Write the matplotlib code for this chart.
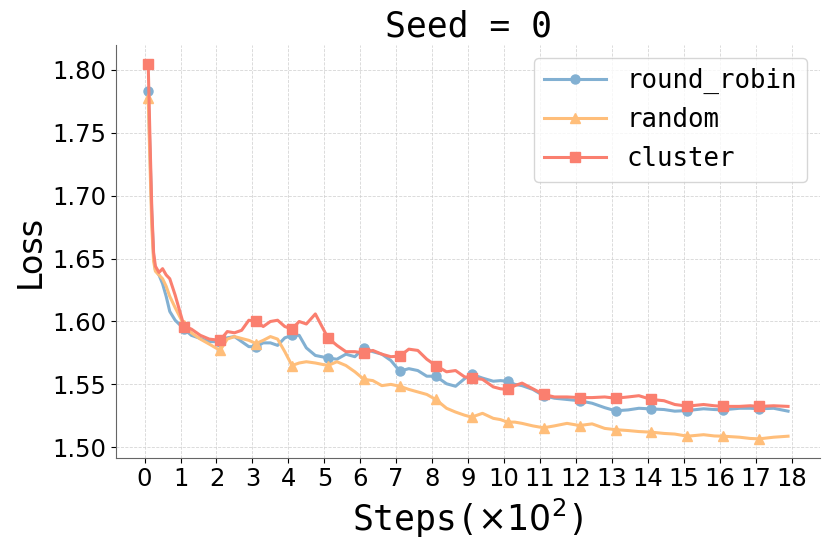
import numpy as np
import matplotlib
matplotlib.use("Agg")
import matplotlib.pyplot as plt

# steps in units of 100
steps = [0.1, 0.15, 0.2, 0.25, 0.3, 0.4, 0.5, 0.6, 0.7, 0.85,
         1.1, 1.3, 1.55, 1.8, 2.1, 2.3, 2.5, 2.7, 2.9, 3.1,
         3.3, 3.5, 3.7, 3.9, 4.1, 4.3, 4.5, 4.75, 5.1, 5.35,
         5.6, 5.85, 6.1, 6.35, 6.6, 6.85, 7.1, 7.35, 7.6, 7.85,
         8.1, 8.4, 8.65, 8.9, 9.1, 9.4, 9.7, 9.9, 10.1, 10.3,
         10.5, 10.8, 11.1, 11.4, 11.75, 12.1, 12.45, 12.8, 13.1, 13.45,
         13.75, 14.1, 14.45, 14.75, 15.1, 15.55, 15.85, 16.1, 16.55, 16.85,
         17.1, 17.5, 17.9]

round_robin = [1.783, 1.735, 1.685, 1.652, 1.641, 1.637, 1.630, 1.620, 1.608, 1.601,
               1.594, 1.589, 1.5865, 1.584, 1.584, 1.587, 1.588, 1.584, 1.580, 1.580,
               1.583, 1.583, 1.581, 1.587, 1.589, 1.589, 1.579, 1.573, 1.571, 1.570,
               1.574, 1.572, 1.579, 1.576, 1.574, 1.569, 1.5605, 1.5625, 1.561, 1.5565,
               1.5565, 1.5505, 1.5485, 1.5545, 1.558, 1.555, 1.5525, 1.553, 1.5525, 1.550,
               1.549, 1.546, 1.541, 1.539, 1.538, 1.537, 1.535, 1.5315, 1.529, 1.5297,
               1.531, 1.5305, 1.530, 1.5287, 1.5292, 1.5306, 1.530, 1.5298, 1.531, 1.531,
               1.5306, 1.531, 1.5287]

random_ = [1.778, 1.725, 1.675, 1.648, 1.640, 1.637, 1.634, 1.628, 1.620, 1.611,
           1.597, 1.591, 1.586, 1.582, 1.577, 1.586, 1.588, 1.5865, 1.585, 1.5825,
           1.585, 1.588, 1.586, 1.576, 1.565, 1.567, 1.568, 1.567, 1.565, 1.568,
           1.565, 1.560, 1.554, 1.553, 1.549, 1.550, 1.5485, 1.546, 1.544, 1.542,
           1.538, 1.531, 1.528, 1.5255, 1.524, 1.527, 1.523, 1.522, 1.520, 1.520,
           1.519, 1.517, 1.5155, 1.517, 1.519, 1.5173, 1.5186, 1.515, 1.514, 1.5133,
           1.5125, 1.512, 1.511, 1.5105, 1.5088, 1.510, 1.509, 1.5088, 1.508, 1.507,
           1.5067, 1.508, 1.5088]

cluster = [1.805, 1.745, 1.690, 1.655, 1.644, 1.639, 1.642, 1.637, 1.634, 1.621,
           1.596, 1.594, 1.589, 1.586, 1.585, 1.592, 1.591, 1.593, 1.601, 1.600,
           1.596, 1.600, 1.601, 1.596, 1.594, 1.600, 1.598, 1.606, 1.587, 1.581,
           1.576, 1.576, 1.575, 1.577, 1.574, 1.572, 1.5725, 1.578, 1.577, 1.570,
           1.565, 1.560, 1.561, 1.556, 1.555, 1.554, 1.548, 1.5465, 1.546, 1.549,
           1.551, 1.5465, 1.542, 1.540, 1.540, 1.5395, 1.5395, 1.540, 1.539, 1.540,
           1.541, 1.538, 1.537, 1.534, 1.5327, 1.534, 1.533, 1.5325, 1.5325, 1.533,
           1.5325, 1.533, 1.5325]

series = [("round_robin", round_robin, "#82B0D2", "o"),
          ("random", random_, "#FFBE7A", "^"),
          ("cluster", cluster, "#FA7F6F", "s")]

x = np.array(steps)
# a marker every 100 steps
marks = [i for i, v in enumerate(x) if np.isclose((v - 0.1) % 1, 0) or np.isclose((v - 0.1) % 1, 1)]

fig, ax = plt.subplots(figsize=(8.3, 5.54), dpi=100)
for name, vals, col, mk in series:
    ax.plot(x, vals, color=col, marker=mk, markevery=marks, markersize=6.5,
            linewidth=2.2, label=name)

ax.set_xticks(range(0, 19))
ax.tick_params(labelsize=17.5)
ax.grid(True, linestyle="--", linewidth=0.6, color="#cccccc", alpha=0.8)
for s in ["top", "right"]:
    ax.spines[s].set_visible(False)
for s in ["left", "bottom"]:
    ax.spines[s].set_color("#666666")

ax.set_title("Seed = 0", fontsize=25, family="DejaVu Sans Mono")
ax.set_xlabel("Steps($\\times10^2$)", fontsize=25, family="DejaVu Sans Mono")
ax.set_ylabel("Loss", fontsize=24)
ax.legend(prop={"family": "DejaVu Sans Mono", "size": 18.5}, handlelength=2.4,
          loc="upper right")

fig.subplots_adjust(left=0.14, right=0.988, bottom=0.174, top=0.919)
fig.savefig("out.png")
